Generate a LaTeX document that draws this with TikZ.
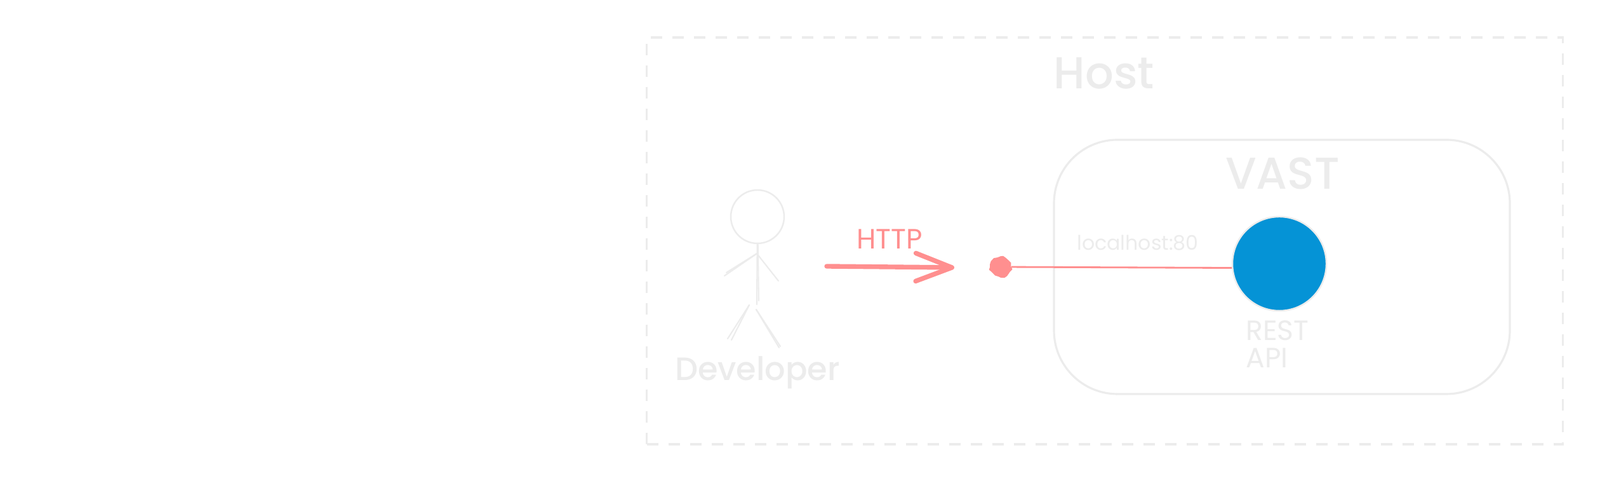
\documentclass[tikz,border=0pt]{standalone}
\usepackage{fontspec}
\setmainfont{Poppins}
\newfontface\heavyhand{Poppins Medium}
\usetikzlibrary{arrows.meta,positioning,decorations.pathmorphing}
\definecolor{sketchgray}{HTML}{ECECEC}
\definecolor{sketchred}{HTML}{FF8F8F}
\definecolor{sketchblue}{HTML}{0593D6}
\tikzset{hostbox/.style={
            draw=sketchgray,
            dash pattern=on 0.18cm off 0.16cm,
            line width=0.9pt,
            minimum width=14.43cm,
            minimum height=6.4cm
        },
        vastbox/.style={
            draw=sketchgray,
            line width=0.9pt,
            rounded corners=1cm,
            minimum width=7.18cm,
            minimum height=4cm
        },
        apidot/.style={
            draw=sketchgray,
            circle,
            fill=sketchblue,
            line width=0.7pt,
            inner sep=0pt,
            minimum size=1.48cm
        },
        portdot/.style={
            circle,
            fill=sketchred,
            inner sep=0pt,
            minimum size=0.33cm,
            decorate,
            decoration={random steps,segment length=1.6pt,amplitude=0.5pt}
        },
        headdot/.style={
            draw=sketchgray,
            circle,
            line width=0.7pt,
            inner sep=0pt,
            minimum size=0.84cm
        },
        limb/.style={
            draw=sketchgray,
            line width=0.6pt,
            line cap=round
        },
        link/.style={
            draw=sketchred,
            line width=0.8pt
        },
        request/.style={
            draw=sketchred,
            line width=2.1pt,
            line cap=round,
            -{Straight Barb[length=0.57cm,width=0.44cm,round]}
        },
        label/.style={
            text=sketchgray,
            inner sep=0pt
        }
    }
\begin{document}
\begin{tikzpicture}
        \useasboundingbox (0,0) rectangle (25.2,7.6);
        \fill[white] (0,0) rectangle (25.2,7.6);
        % boxes
        \node[hostbox] at (17.4,3.81) (host) {};
        \node[vastbox] at (20.19,3.4) (vast) {};
        \node[label,font=\fontsize{20}{24}\heavyhand] at (17.39,6.45) (hosttitle) {Host};
        \node[label,font=\fontsize{20}{24}\heavyhand] at (20.2,4.87) (vasttitle) {VAST};
        % endpoint
        \node[apidot] at (20.15,3.45) (rest) {};
        \node[portdot] at (15.76,3.4) (port) {};
        \draw[link] (port) -- (rest.185);
        \node[label,font=\fontsize{9}{11}\selectfont] at (17.92,3.78) (addr) {localhost:80};
        \node[label,font=\fontsize{12.5}{12.3}\selectfont,align=left,anchor=north west] at (19.62,2.56) (restlabel) {REST\\API};
        % developer
        \node[headdot] at (11.93,4.19) (head) {};
        \coordinate (shoulder) at (11.92,3.61);
        \coordinate (hip) at (11.92,2.81);
        \coordinate (hiptwo) at (11.95,2.87);
        \coordinate (lefthand) at (11.41,3.26);
        \coordinate (lefthandtwo) at (11.44,3.31);
        \coordinate (righthand) at (12.26,3.18);
        \coordinate (leftleg) at (11.8,2.8);
        \coordinate (leftfoot) at (11.46,2.27);
        \coordinate (leftfoottwo) at (11.52,2.25);
        \coordinate (rightleg) at (11.91,2.73);
        \coordinate (rightfoot) at (12.29,2.15);
        \coordinate (rightfoottwo) at (12.27,2.13);
        \draw[limb] (head) -- (hip);
        \draw[limb] (head) -- (hiptwo);
        \draw[limb] (shoulder) -- (lefthand);
        \draw[limb] (shoulder) -- (lefthandtwo);
        \draw[limb] (shoulder) -- (righthand);
        \draw[limb] (leftleg) -- (leftfoot);
        \draw[limb] (leftleg) -- (leftfoottwo);
        \draw[limb] (rightleg) -- (rightfoot);
        \draw[limb] (rightleg) -- (rightfoottwo);
        \node[label,font=\fontsize{14.5}{17}\heavyhand] at (11.93,1.74) (developer) {Developer};
        % request
        \coordinate (reqstart) at (13.02,3.41);
        \coordinate (reqend) at (15.03,3.39);
        \draw[request] (reqstart) -- (reqend);
        \node[label,font=\fontsize{12.5}{15}\selectfont,text=sketchred] at (14.01,3.84) (http) {HTTP};
    \end{tikzpicture}
\end{document}
